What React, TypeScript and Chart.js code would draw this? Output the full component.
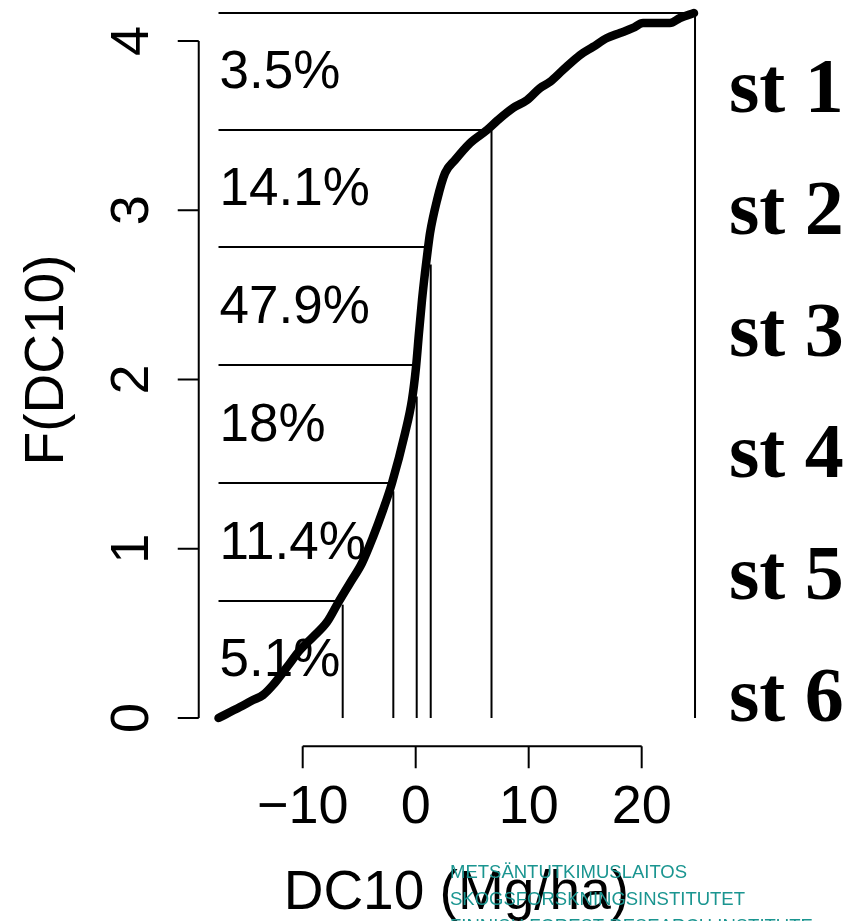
import React, { useEffect, useRef } from "react";
import { Chart, registerables } from "chart.js";

Chart.register(...registerables);

// ---- data ----
const curveX = [
  -17.45, -15.55, -14.4, -13.51, -12.63, -11.39, -10.24, -9.09, -7.85, -6.88,
  -5.81, -4.75, -3.78, -2.89, -2.1, -0.94, -0.33, 0.03, 0.29, 0.56,
  0.82, 1.09, 1.27, 1.89, 2.6, 3.48, 4.81, 6.31, 7.28, 8.61,
  9.85, 11.0, 11.88, 13.04, 14.54, 15.69, 16.93, 18.08, 19.23, 20.12,
  22.5, 23.39, 24.63,
];
const curveY = [
  0, 0.065, 0.106, 0.136, 0.195, 0.301, 0.402, 0.479, 0.567, 0.679,
  0.798, 0.916, 1.069, 1.229, 1.388, 1.684, 1.879, 2.074, 2.275, 2.47,
  2.629, 2.777, 2.866, 3.06, 3.22, 3.297, 3.397, 3.474, 3.533, 3.604,
  3.651, 3.722, 3.758, 3.829, 3.917, 3.965, 4.018, 4.047, 4.077, 4.106,
  4.106, 4.136, 4.165,
];
// stratum cut points on the curve (bottom to top)
const cutX = [-6.46, -1.98, 0.09, 1.33, 6.71, 24.72];
const cutY = [0.691, 1.388, 2.086, 2.783, 3.474, 4.165];
// top of each vertical line (where it meets the curve)
const vTopY = [0.67, 1.34, 1.9, 2.68, 3.47, 4.165];
const pctLabels = ["5.1%", "11.4%", "18%", "47.9%", "14.1%", "3.5%"];
const stLabels = ["st 1", "st 2", "st 3", "st 4", "st 5", "st 6"];
const xTicks = [-10, 0, 10, 20];
const yTicks = [0, 1, 2, 3, 4];
const watermark = [
  "METSÄNTUTKIMUSLAITOS",
  "SKOGSFORSKNINGSINSTITUTET",
  "FINNISH FOREST RESEARCH INSTITUTE",
];

const SANS = '"Liberation Sans", Arial, sans-serif';
const SERIF = '"Liberation Serif", "Times New Roman", serif';

const fmt = (v: number) => (v < 0 ? "\u2212" + Math.abs(v) : String(v));

const overlay = {
  id: "overlay",
  afterDraw(chart: any) {
    const ctx = chart.ctx as CanvasRenderingContext2D;
    const xs = chart.scales.x;
    const ys = chart.scales.y;
    const area = chart.chartArea;
    ctx.save();
    ctx.strokeStyle = "#000";
    ctx.fillStyle = "#000";
    ctx.lineWidth = 2;
    ctx.lineCap = "butt";

    // y axis
    const ax = area.left;
    ctx.beginPath();
    ctx.moveTo(ax, ys.getPixelForValue(yTicks[0]));
    ctx.lineTo(ax, ys.getPixelForValue(yTicks[yTicks.length - 1]));
    for (const t of yTicks) {
      const p = ys.getPixelForValue(t);
      ctx.moveTo(ax, p);
      ctx.lineTo(ax - 21, p);
    }
    ctx.stroke();
    ctx.font = `54px ${SANS}`;
    ctx.textAlign = "center";
    ctx.textBaseline = "alphabetic";
    for (const t of yTicks) {
      const p = ys.getPixelForValue(t);
      ctx.save();
      ctx.translate(ax - 51, p);
      ctx.rotate(-Math.PI / 2);
      ctx.fillText(fmt(t), 0, 0);
      ctx.restore();
    }

    // x axis
    const ay = area.bottom;
    ctx.beginPath();
    ctx.moveTo(xs.getPixelForValue(xTicks[0]), ay);
    ctx.lineTo(xs.getPixelForValue(xTicks[xTicks.length - 1]), ay);
    for (const t of xTicks) {
      const p = xs.getPixelForValue(t);
      ctx.moveTo(p, ay);
      ctx.lineTo(p, ay + 22);
    }
    ctx.stroke();
    for (const t of xTicks) {
      ctx.fillText(fmt(t), xs.getPixelForValue(t), ay + 77);
    }

    // axis titles
    ctx.font = `55px ${SANS}`;
    ctx.fillText("DC10 (Mg/ha)", (area.left + area.right) / 2, ay + 163);
    ctx.save();
    ctx.translate(63, 360);
    ctx.rotate(-Math.PI / 2);
    ctx.fillText("F(DC10)", 0, 0);
    ctx.restore();

    // percent labels
    ctx.font = `53px ${SANS}`;
    ctx.textAlign = "left";
    ctx.textBaseline = "middle";
    const lx = xs.getPixelForValue(curveX[0]) + 1;
    for (let i = 0; i < pctLabels.length; i++) {
      const lo = i === 0 ? 0 : cutY[i - 1];
      const mid = (lo + cutY[i]) / 2;
      ctx.fillText(pctLabels[i], lx, ys.getPixelForValue(mid) + 2);
    }

    // stratum names
    ctx.font = `bold 78px ${SERIF}`;
    ctx.textBaseline = "alphabetic";
    for (let i = 0; i < stLabels.length; i++) {
      ctx.fillText(stLabels[i], 729, 112 + i * 121.8);
    }

    // watermark
    ctx.font = `18.5px ${SANS}`;
    ctx.fillStyle = "#1a9590";
    for (let i = 0; i < watermark.length; i++) {
      ctx.fillText(watermark[i], 450, 878 + i * 26.8);
    }
    ctx.restore();
  },
};

export default function App() {
  const ref = useRef<HTMLCanvasElement | null>(null);
  useEffect(() => {
    document.body.style.margin = "0";
    const canvas = ref.current;
    if (!canvas) return;
    const thin = { borderColor: "#000", borderWidth: 2, pointRadius: 0, showLine: true, order: 2, clip: false as any };
    const datasets: any[] = [
      {
        data: curveX.map((x, i) => ({ x, y: curveY[i] })),
        borderColor: "#000",
        borderWidth: 8.5,
        pointRadius: 0,
        showLine: true,
        cubicInterpolationMode: "monotone",
        borderCapStyle: "round",
        borderJoinStyle: "round",
        order: 0,
        clip: false,
      },
    ];
    cutX.forEach((cx, i) => {
      datasets.push({ ...thin, data: [{ x: curveX[0], y: cutY[i] }, { x: cx, y: cutY[i] }] });
      datasets.push({ ...thin, data: [{ x: cx, y: 0 }, { x: cx, y: vTopY[i] }] });
    });
    const chart = new Chart(canvas, {
      type: "scatter",
      data: { datasets },
      options: {
        responsive: false,
        devicePixelRatio: 1,
        animation: false,
        layout: { padding: { left: 198.74, right: 154, top: 7.15, bottom: 174.7 } },
        scales: {
          x: { type: "linear", min: -19.2, max: 26.4, display: false },
          y: { type: "linear", min: -0.167, max: 4.2, display: false },
        },
        plugins: { legend: { display: false }, tooltip: { enabled: false } },
        events: [],
      },
      plugins: [overlay],
    });
    return () => chart.destroy();
  }, []);
  return (
    <div style={{ width: 868, height: 921, background: "#fff" }}>
      <canvas ref={ref} width={868} height={921} style={{ display: "block" }} />
    </div>
  );
}
